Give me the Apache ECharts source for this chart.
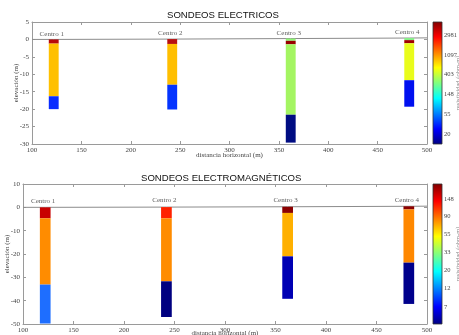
<!DOCTYPE html>
<html><head><meta charset="utf-8">
<script src="https://cdn.jsdelivr.net/npm/echarts@6/dist/echarts.min.js"></script>
<style>html,body{margin:0;padding:0;background:#fff}#c{width:459px;height:335px}</style>
</head><body><div id="c"></div>
<script>
// ---------- data ----------
const centroNames = ['Centro 1', 'Centro 2', 'Centro 3', 'Centro 4'];
const centroX = [122, 242, 362, 482];            // distancia horizontal (m)
const topoX = [100, 122, 242, 362, 482, 500];     // surface line
const topoElevElec = [0, 0, 0.1, 0.25, 0.4, 0.45];
const topoElevEM = [0, 0, 0.1, 0.25, 0.45, 0.5];

// layer boundaries, elevación (m)
const elecC1 = [0, -1.2, -16.3, -20];
const elecC2 = [0.1, -1.3, -13, -20.1];
const elecC3 = [0.25, -0.4, -1.4, -21.6, -29.6];
const elecC4 = [0.4, -0.2, -1.1, -11.7, -19.3];
const emC1 = [0, -4.7, -33.1, -49.8];
const emC2 = [0.1, -4.7, -31.7, -47];
const emC3 = [0.25, -2.4, -21, -39.2];
const emC4 = [0.45, -0.9, -23.7, -41.4];

// colorbar tick labels (ohm-m) and ranges (ln ohm-m)
const elecColorTicks = [20, 55, 148, 403, 1097, 2981];
const emColorTicks = [7, 12, 20, 33, 55, 90, 148];
const elecColorRange = [2.49, 8.66];
const emColorRange = [1.47, 5.42];

// ---------- styles ----------
const elecLayerColors = [
  ['#b80a0a', '#ffc000', '#0a2cff'],
  ['#b80f0f', '#ffbf00', '#0434ff'],
  ['#8ff574', '#990000', '#a4f562', '#000c82'],
  ['#86f086', '#a00000', '#e9fc1c', '#0010f0']
];
const emLayerColors = [
  ['#c80000', '#ff8c00', '#1e6eff'],
  ['#ff2200', '#ff8c00', '#000080'],
  ['#8b0000', '#ffb000', '#0000b4'],
  ['#8b0000', '#ff8800', '#00008c']
];
const jet = [
  {offset: 0, color: '#000080'}, {offset: 0.125, color: '#0000ff'},
  {offset: 0.375, color: '#00ffff'}, {offset: 0.625, color: '#ffff00'},
  {offset: 0.875, color: '#ff0000'}, {offset: 1, color: '#800000'}
];
const SERIF = 'Liberation Serif';
const AX = '#9a9a9a';
const LBL = '#444';

function layerData(cols, colors) {
  const out = [];
  cols.forEach((b, i) => {
    for (let j = 0; j < b.length - 1; j++) {
      out.push({value: [centroX[i], b[j], b[j + 1]], itemStyle: {color: colors[i][j]}});
    }
  });
  return out;
}
function barRender(half) {
  return function (params, api) {
    const x = api.value(0), t = api.value(1), b = api.value(2);
    const p1 = api.coord([x - half, t]), p2 = api.coord([x + half, b]);
    return {type: 'rect', shape: {x: p1[0], y: p1[1], width: p2[0] - p1[0], height: p2[1] - p1[1]},
      style: {fill: api.visual('color')}};
  };
}
function cbRender(params, api) {
  const p1 = api.coord([0, api.value(2)]), p2 = api.coord([1, api.value(1)]);
  return {type: 'rect', shape: {x: p1[0], y: p1[1], width: p2[0] - p1[0], height: p2[1] - p1[1]},
    style: {fill: new echarts.graphic.LinearGradient(0, 1, 0, 0, jet), stroke: '#333', lineWidth: 0.8}};
}
function mainX(grid, pos, labels, name, gap) {
  return {type: 'value', gridIndex: grid, position: pos, min: 100, max: 500, interval: 50,
    axisLine: {show: true, onZero: false, lineStyle: {color: AX, width: 1}},
    axisTick: {show: true, inside: true, length: 3, lineStyle: {color: AX}},
    axisLabel: {show: labels, fontFamily: SERIF, fontSize: 7, color: LBL, margin: 3},
    splitLine: {show: false},
    name: labels ? name : '', nameLocation: 'middle', nameGap: gap, nameMoveOverlap: false,
    nameTextStyle: {fontFamily: SERIF, fontSize: 7, color: LBL}};
}
function mainY(grid, pos, labels, min, max, interval) {
  return {type: 'value', gridIndex: grid, position: pos, min: min, max: max, interval: interval,
    axisLine: {show: true, onZero: false, lineStyle: {color: AX, width: 1}},
    axisTick: {show: true, inside: true, length: 3, lineStyle: {color: AX}},
    axisLabel: {show: labels, fontFamily: SERIF, fontSize: 7, color: LBL, margin: 3},
    splitLine: {show: false},
    name: labels ? 'elevación (m)' : '', nameLocation: 'middle', nameGap: 12, nameMoveOverlap: false,
    nameTextStyle: {fontFamily: SERIF, fontSize: 7, color: LBL}};
}
function cbX(grid) {
  return {type: 'value', gridIndex: grid, min: 0, max: 1, show: false};
}
function cbY(grid, range, ticks) {
  const vals = ticks.map(Math.log);
  return {type: 'value', gridIndex: grid, position: 'right', min: range[0], max: range[1],
    axisLine: {show: false},
    axisTick: {show: false},
    axisLabel: {show: true, customValues: vals, margin: 2, fontFamily: SERIF, fontSize: 6.5, color: LBL,
      formatter: v => String(Math.round(Math.exp(v)))},
    splitLine: {show: false},
    name: 'resistividad (ohm-m)', nameLocation: 'middle', nameGap: 13, nameMoveOverlap: false,
    nameTextStyle: {fontFamily: SERIF, fontSize: 6.5, color: '#888'}};
}
function labelData(cols) {
  return cols.map((b, i) => ({value: [centroX[i] - 2, b[0]], name: centroNames[i]}));
}
function topoData(elev) {
  return topoX.map((x, i) => [x, elev[i]]);
}

const elecCols = [elecC1, elecC2, elecC3, elecC4];
const emCols = [emC1, emC2, emC3, emC4];

const option = {
  backgroundColor: '#fff',
  animation: false,
  title: [
    {text: 'SONDEOS ELECTRICOS', left: 167, top: 10, padding: 0,
      textStyle: {fontFamily: 'Liberation Sans', fontSize: 9.6, fontWeight: 'normal', color: '#111'}},
    {text: 'SONDEOS ELECTROMAGNÉTICOS', left: 141, top: 173, padding: 0,
      textStyle: {fontFamily: 'Liberation Sans', fontSize: 9.6, fontWeight: 'normal', color: '#111'}}
  ],
  grid: [
    {left: 32, top: 22, width: 395, height: 122, outerBoundsMode: 'none', containLabel: false},
    {left: 23, top: 184, width: 404, height: 140, outerBoundsMode: 'none', containLabel: false},
    {left: 433, top: 22, width: 9, height: 122, outerBoundsMode: 'none', containLabel: false},
    {left: 433, top: 184, width: 9, height: 140, outerBoundsMode: 'none', containLabel: false}
  ],
  xAxis: [
    mainX(0, 'bottom', true, 'distancia horizontal (m)', 8),
    mainX(0, 'top', false, '', 0),
    mainX(1, 'bottom', true, 'distancia horizontal (m)', 6),
    mainX(1, 'top', false, '', 0),
    cbX(2), cbX(3)
  ],
  yAxis: [
    mainY(0, 'left', true, -30, 5, 5),
    mainY(0, 'right', false, -30, 5, 5),
    mainY(1, 'left', true, -50, 10, 10),
    mainY(1, 'right', false, -50, 10, 10),
    cbY(2, elecColorRange, elecColorTicks),
    cbY(3, emColorRange, emColorTicks)
  ],
  series: [
    {type: 'line', xAxisIndex: 0, yAxisIndex: 0, data: topoData(topoElevElec), symbol: 'none',
      lineStyle: {color: '#8c8c8c', width: 1}, z: 1},
    {type: 'custom', xAxisIndex: 0, yAxisIndex: 0, renderItem: barRender(5),
      encode: {x: 0, y: [1, 2]}, data: layerData(elecCols, elecLayerColors), z: 3},
    {type: 'scatter', xAxisIndex: 0, yAxisIndex: 0, symbolSize: 0, data: labelData(elecCols),
      label: {show: true, position: 'top', distance: 2, formatter: p => p.name,
        fontFamily: SERIF, fontSize: 7, color: '#333'}},
    {type: 'line', xAxisIndex: 2, yAxisIndex: 2, data: topoData(topoElevEM), symbol: 'none',
      lineStyle: {color: '#8c8c8c', width: 1}, z: 1},
    {type: 'custom', xAxisIndex: 2, yAxisIndex: 2, renderItem: barRender(5.3),
      encode: {x: 0, y: [1, 2]}, data: layerData(emCols, emLayerColors), z: 3},
    {type: 'scatter', xAxisIndex: 2, yAxisIndex: 2, symbolSize: 0, data: labelData(emCols),
      label: {show: true, position: 'top', distance: 3, formatter: p => p.name,
        fontFamily: SERIF, fontSize: 7, color: '#333'}},
    {type: 'custom', xAxisIndex: 4, yAxisIndex: 4, renderItem: cbRender,
      encode: {x: 0, y: [1, 2]}, data: [[0, elecColorRange[0], elecColorRange[1]]]},
    {type: 'custom', xAxisIndex: 5, yAxisIndex: 5, renderItem: cbRender,
      encode: {x: 0, y: [1, 2]}, data: [[0, emColorRange[0], emColorRange[1]]]}
  ]
};
const chart = echarts.init(document.getElementById('c'), null, {renderer: 'canvas'});
chart.setOption(option);
</script></body></html>
